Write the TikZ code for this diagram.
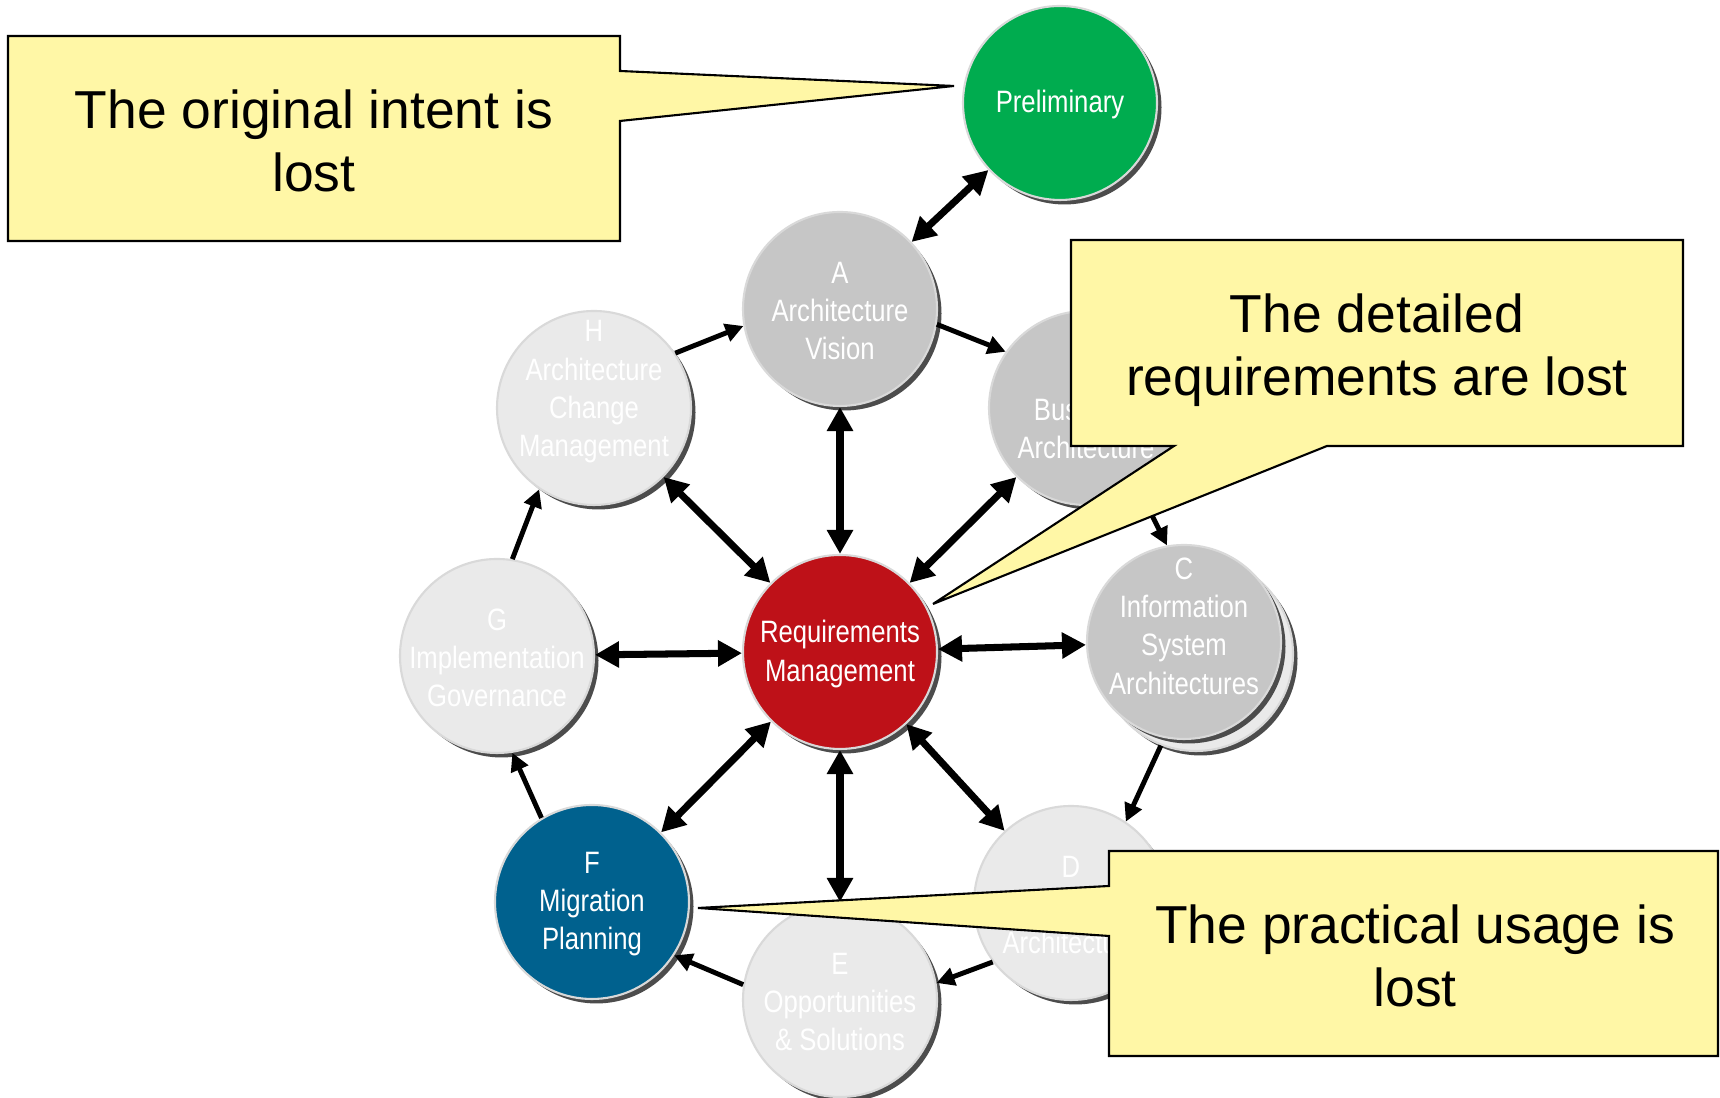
\documentclass[tikz,border=0pt]{standalone}
\usepackage{fontspec}
\setmainfont{Liberation Sans}
\newfontfamily\narrowsans[FakeStretch=0.83]{Liberation Sans}
\usepackage{tikz}
\usetikzlibrary{arrows.meta, shadows, positioning}

\definecolor{prelimgreen}{RGB}{0,172,79}
\definecolor{phasegray}{RGB}{198,198,198}
\definecolor{phaselight}{RGB}{234,234,234}
\definecolor{migblue}{RGB}{0,97,142}
\definecolor{reqred}{RGB}{190,17,24}
\definecolor{noteyellow}{RGB}{255,247,166}

\begin{document}
\begin{tikzpicture}[
	phase/.style={circle,minimum size=1.94cm,inner sep=0pt,draw=gray!30,line width=0.6pt,
		drop shadow={shadow xshift=0.45mm,shadow yshift=-0.45mm,fill=black!70,opacity=1}},
	ptext/.style={text=white,align=center,yshift=-0.02cm,font=\narrowsans\fontsize{8.8}{10.9}\selectfont},
	ring/.style={-{Triangle[length=1.8mm,width=1.8mm]},line width=1.4pt},
	spoke/.style={{Triangle[length=2.4mm,width=2.5mm]}-{Triangle[length=2.4mm,width=2.5mm]},line width=2pt},
	note/.style={fill=noteyellow,draw=black,line width=0.6pt},
	notetext/.style={align=center,font=\fontsize{15.2}{17.8}\selectfont}
	]
			\useasboundingbox[fill=white] (0,0) rectangle (17.2,10.98);
			% phases of the cycle
			\node[phase,fill=prelimgreen,label={[ptext]center:Preliminary}] (prelim) at (10.60,9.95) {};
			\node[phase,fill=phasegray,label={[ptext]center:{A\\Architecture\\Vision}}] (A) at (8.40,7.89) {};
			\node[phase,fill=phasegray,label={[ptext]center:{B\\Business\\Architecture}}] (B) at (10.86,6.90) {};
			\node[phase,fill=phaselight] (C-back) at (11.96,4.44) {};
			\node[phase,fill=phasegray,label={[ptext,yshift=0.18cm]center:{C\\Information\\System\\Architectures}}] (C) at (11.84,4.56) {};
			\node[phase,fill=phaselight,label={[ptext]center:{D\\Technology\\Architecture}}] (D) at (10.71,1.95) {};
			\node[phase,fill=phaselight,label={[ptext]center:{E\\Opportunities\\\& Solutions}}] (E) at (8.40,0.98) {};
			\node[phase,fill=migblue,label={[ptext]center:{F\\Migration\\Planning}}] (F) at (5.92,1.96) {};
			\node[phase,fill=phaselight,label={[ptext]center:{G\\Implementation\\Governance}}] (G) at (4.97,4.42) {};
			\node[phase,fill=phaselight,label={[ptext,yshift=0.18cm]center:{H\\Architecture\\Change\\Management}}] (H) at (5.94,6.90) {};
			\node[phase,fill=reqred,label={[ptext]center:{Requirements\\Management}}] (req) at (8.40,4.46) {};
			% the ring
			\draw[ring] (H.34) -- (A.190);
			\draw[ring] (A.-9) -- (B.145);
			\draw[ring] (B.-57) -- (C.100);
			\draw[ring] (C-back.-111) -- (D.56);
			\draw[ring] (D.217) -- (E.10);
			\draw[ring] (E.171) -- (F.-33);
			\draw[ring] (F.121) -- (G.-81);
			\draw[ring] (G.81) -- (H.-124);
			% spokes
			\draw[spoke] (A) -- (prelim);
			\foreach \phase in {A,B,C,D,E,F,G,H}
				\draw[spoke] (req) -- (\phase);
			% callouts
			\draw[note] (0.08,10.62) -- (6.20,10.62) -- (6.20,10.27) -- (9.54,10.12) -- (6.20,9.77) -- (6.20,8.57) -- (0.08,8.57) -- cycle;
			\node[notetext] (intent) at (3.14,9.57) {The original intent is\\lost};
			\draw[note] (10.71,8.58) -- (16.83,8.58) -- (16.83,6.52) -- (13.27,6.52) -- (9.33,4.94) -- (11.74,6.52) -- (10.71,6.52) -- cycle;
			\node[notetext] (detail) at (13.77,7.48) {The detailed\\requirements are lost};
			\draw[note] (11.09,2.47) -- (17.18,2.47) -- (17.18,0.42) -- (11.09,0.42) -- (11.09,1.62) -- (6.98,1.90) -- (11.09,2.12) -- cycle;
			\node[notetext] (usage) at (14.15,1.42) {The practical usage is\\lost};
\end{tikzpicture}
\end{document}
